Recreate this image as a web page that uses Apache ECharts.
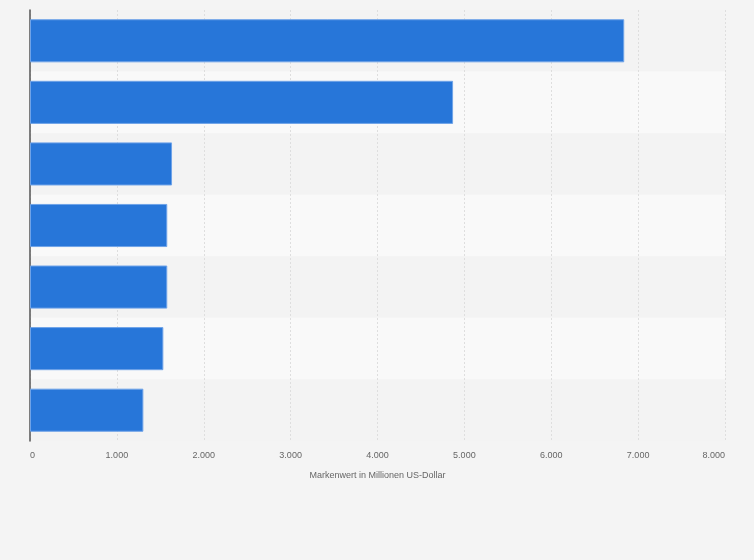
<!DOCTYPE html>
<html><head><meta charset="utf-8">
<script src="https://cdn.jsdelivr.net/npm/echarts@6/dist/echarts.min.js"></script>
<style>html,body{margin:0;background:#f4f4f4}#c{width:754px;height:560px}</style>
</head><body><div id="c"></div>
<script>
const categories = ['A','B','C','D','E','F','G'];
const values = [6840, 4870, 1635, 1580, 1580, 1535, 1305];
const chart = echarts.init(document.getElementById('c'));
chart.setOption({
  backgroundColor:'#f4f4f4',
  animation:false,
  grid:{left:30,right:29,top:10,bottom:119},
  xAxis:{type:'value',min:0,max:8000,interval:1000,
    axisLabel:{color:'#666',fontSize:9,fontFamily:'Arial, Liberation Sans',
      formatter:v=>v.toLocaleString('de-DE'),margin:10,
      alignMinLabel:'left',alignMaxLabel:'right'},
    splitLine:{lineStyle:{color:'#dedede',type:[2,2]}},
    name:'Markenwert in Millionen US-Dollar',nameLocation:'middle',nameGap:30,
    nameTextStyle:{color:'#666',fontSize:9,fontFamily:'Arial, Liberation Sans'}},
  yAxis:{type:'category',data:categories,inverse:true,
    axisLabel:{show:false},axisTick:{show:false},
    axisLine:{lineStyle:{color:'#555',width:1.5}},
    splitArea:{show:true,areaStyle:{color:['#f3f3f3','#f9f9f9']}}},
  series:[{type:'bar',data:values,barWidth:'70%',
    itemStyle:{color:'#2776d9',borderColor:'#6fa3e8',borderWidth:1}}]
});
</script></body></html>
